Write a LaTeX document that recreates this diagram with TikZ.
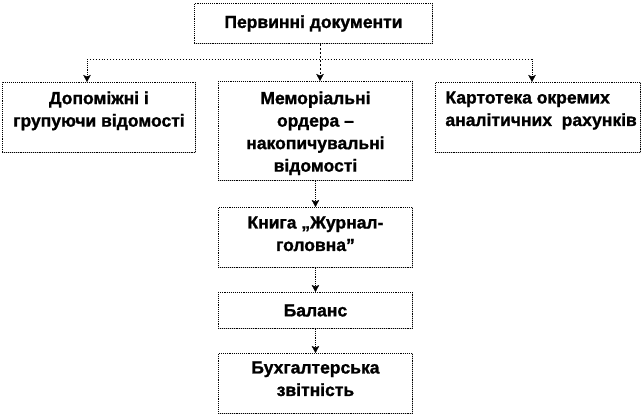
\documentclass[tikz,border=0pt]{standalone}
\usepackage{fontspec}
\setmainfont{Liberation Sans}[BoldFeatures={FakeBold=1.2}]
\usetikzlibrary{arrows.meta}
\newcommand{\tbx}[4]{\parbox[c][#2pt][t]{#1pt}{\centering\vspace*{#3pt}#4\par}}
\newcommand{\tbxl}[4]{\parbox[c][#2pt][t]{#1pt}{\raggedright\vspace*{#3pt}\hspace*{10pt}#4\par}}
\tikzset{
  box/.style={draw=black, densely dotted, line width=0.9pt, fill=white,
    preaction={draw=gray!45, solid, line width=0.9pt},
    inner sep=0pt, anchor=north west,
    font=\fontsize{17.5}{22.5}\selectfont\bfseries},
  conn/.style={draw=black, densely dotted, line width=0.9pt},
  tip/.style={-{Stealth[length=7pt,width=7.5pt,inset=1.5pt,fill=black,line width=0.4pt]}}
}
\begin{document}
\begin{tikzpicture}[x=1pt,y=-1pt]
\useasboundingbox (0,0) rectangle (642,416);
\node[box] (prv) at (194,3) {\parbox[c][40pt][c]{238pt}{\centering Первинні документи}};
\node[box] (dop) at (2,82) {\tbx{193}{70}{9}{Допоміжні і\\групуючи відомості}};
\node[box] (mem) at (218,81) {\tbx{194}{99}{10}{Меморіальні\\ордера –\\накопичувальні\\відомості}};
\node[box] (kar) at (435,82) {\tbxl{205}{70}{9}{Картотека окремих\\\hspace*{10pt}аналітичних\ \ рахунків}};
\node[box] (knh) at (218,207) {\tbx{194}{60}{9}{Книга „Журнал-\\головна”}};
\node[box] (bal) at (218,292) {\parbox[c][36pt][c]{194pt}{\centering Баланс}};
\node[box] (fin) at (218,353) {\tbx{194}{60}{8}{Бухгалтерська\\звітність}};
\coordinate (jm) at (320,59);
\coordinate (jl) at (87,59);
\coordinate (jr) at (532,59);
\draw[conn, dash pattern=on 2.5pt off 1.5pt, tip] (prv.south -| jm) -- (mem.north -| jm);
\draw[conn, dotted] (jl) -- (jr);
\draw[conn, tip] (jl) -- (dop.north -| jl);
\draw[conn, tip] (jr) -- (kar.north -| jr);
\draw[conn, tip] (mem.south) -- (knh.north);
\draw[conn, tip] (knh.south) -- (bal.north);
\draw[conn, tip] (bal.south) -- (fin.north);
\end{tikzpicture}
\end{document}
